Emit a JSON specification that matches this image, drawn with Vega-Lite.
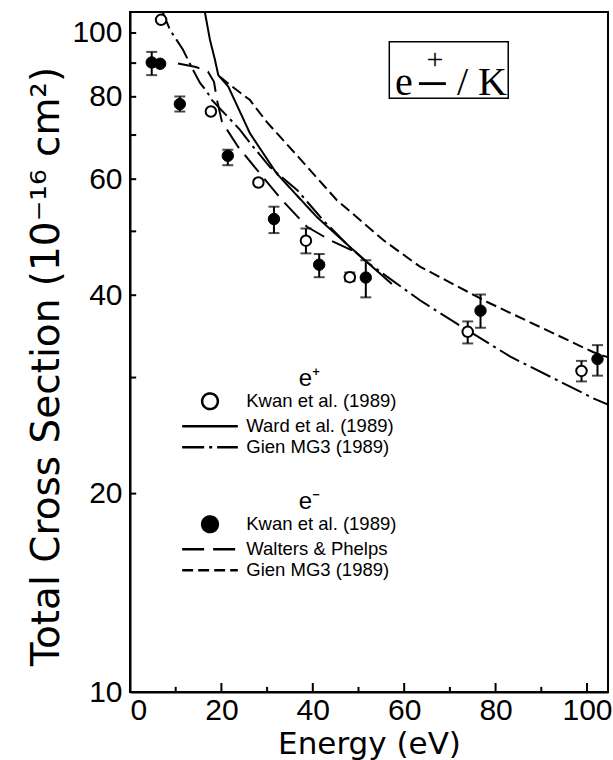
{
  "$schema": "https://vega.github.io/schema/vega-lite/v6.json",
  "width": 478,
  "height": 680,
  "autosize": {"type": "none"},
  "padding": {"left": 130, "top": 12, "right": 5, "bottom": 68},
  "background": "white",
  "config": {
    "view": {"stroke": "black", "strokeWidth": 2},
    "axis": {
      "domainColor": "black", "domainWidth": 2, "tickColor": "black", "tickWidth": 2,
      "labelColor": "black", "titleColor": "black", "grid": false,
      "labelFont": "Liberation Sans", "labelFontSize": 30,
      "titleFont": "DejaVu Sans", "titleFontSize": 31, "titleFontWeight": "normal"
    },
    "legend": {
      "orient": "none", "padding": 0, "labelFont": "Liberation Sans", "labelFontSize": 18.5,
      "labelColor": "black", "labelLimit": 300, "labelOffset": 27, "symbolSize": 124,
      "symbolStrokeWidth": 2.5, "symbolStrokeColor": "black", "rowPadding": 2,
      "titleFont": "Liberation Sans", "titleFontSize": 24, "titleFontWeight": "normal",
      "titleColor": "black", "titlePadding": 1, "titleAnchor": "middle", "titleAlign": "left"
    }
  },
  "datasets": {
    "pos_pts": [
      {"E": 6.8, "Q": 104.7, "lo": null, "hi": null},
      {"E": 17.7, "Q": 76.0, "lo": null, "hi": null},
      {"E": 28.1, "Q": 59.3, "lo": null, "hi": null},
      {"E": 38.5, "Q": 48.4, "lo": 46.3, "hi": 50.5},
      {"E": 48.1, "Q": 42.6, "lo": 42.0, "hi": 43.3},
      {"E": 73.9, "Q": 35.2, "lo": 33.8, "hi": 36.5},
      {"E": 98.8, "Q": 30.7, "lo": 29.6, "hi": 31.8}
    ],
    "neg_pts": [
      {"E": 4.75, "Q": 90.2, "lo": 86.3, "hi": 93.6},
      {"E": 6.6, "Q": 89.8, "lo": null, "hi": null},
      {"E": 10.9, "Q": 78.0, "lo": 76.0, "hi": 80.1},
      {"E": 21.4, "Q": 65.1, "lo": 63.0, "hi": 66.5},
      {"E": 31.5, "Q": 52.2, "lo": 49.7, "hi": 54.5},
      {"E": 41.4, "Q": 44.5, "lo": 42.6, "hi": 46.2},
      {"E": 51.6, "Q": 42.55, "lo": 39.7, "hi": 45.2},
      {"E": 76.7, "Q": 37.9, "lo": 35.7, "hi": 40.1},
      {"E": 102.3, "Q": 32.0, "lo": 30.2, "hi": 33.6}
    ],
    "pos_lines": [
      {"series": "Ward et al. (1989)", "E": 16.2, "Q": 110.3},
      {"series": "Ward et al. (1989)", "E": 16.41, "Q": 107.3},
      {"series": "Ward et al. (1989)", "E": 17.5, "Q": 97.6},
      {"series": "Ward et al. (1989)", "E": 18.6, "Q": 91.0},
      {"series": "Ward et al. (1989)", "E": 19.32, "Q": 86.3},
      {"series": "Ward et al. (1989)", "E": 21.51, "Q": 82.9},
      {"series": "Ward et al. (1989)", "E": 26.26, "Q": 70.4},
      {"series": "Ward et al. (1989)", "E": 32.1, "Q": 61.2},
      {"series": "Ward et al. (1989)", "E": 40.85, "Q": 52.6},
      {"series": "Ward et al. (1989)", "E": 48.86, "Q": 46.85},
      {"series": "Ward et al. (1989)", "E": 57.3, "Q": 41.6},
      {"series": "Gien MG3 (1989)", "E": 6.78, "Q": 109.1},
      {"series": "Gien MG3 (1989)", "E": 8.75, "Q": 101.1},
      {"series": "Gien MG3 (1989)", "E": 11.6, "Q": 94.3},
      {"series": "Gien MG3 (1989)", "E": 13.78, "Q": 87.9},
      {"series": "Gien MG3 (1989)", "E": 15.32, "Q": 84.0},
      {"series": "Gien MG3 (1989)", "E": 16.85, "Q": 81.4},
      {"series": "Gien MG3 (1989)", "E": 17.94, "Q": 79.1},
      {"series": "Gien MG3 (1989)", "E": 24.07, "Q": 71.3},
      {"series": "Gien MG3 (1989)", "E": 26.26, "Q": 68.1},
      {"series": "Gien MG3 (1989)", "E": 30.63, "Q": 62.6},
      {"series": "Gien MG3 (1989)", "E": 36.54, "Q": 57.8},
      {"series": "Gien MG3 (1989)", "E": 42.23, "Q": 52.0},
      {"series": "Gien MG3 (1989)", "E": 48.14, "Q": 47.3},
      {"series": "Gien MG3 (1989)", "E": 51.86, "Q": 44.9},
      {"series": "Gien MG3 (1989)", "E": 63.45, "Q": 39.3},
      {"series": "Gien MG3 (1989)", "E": 70.74, "Q": 36.5},
      {"series": "Gien MG3 (1989)", "E": 83.14, "Q": 32.3},
      {"series": "Gien MG3 (1989)", "E": 101.4, "Q": 27.9},
      {"series": "Gien MG3 (1989)", "E": 104.6, "Q": 27.3}
    ],
    "neg_lines": [
      {"series": "Walters & Phelps", "E": 10.5, "Q": 89.9},
      {"series": "Walters & Phelps", "E": 14.44, "Q": 88.8},
      {"series": "Walters & Phelps", "E": 17.07, "Q": 87.3},
      {"series": "Walters & Phelps", "E": 18.38, "Q": 84.3},
      {"series": "Walters & Phelps", "E": 19.04, "Q": 79.1},
      {"series": "Walters & Phelps", "E": 20.13, "Q": 73.3},
      {"series": "Walters & Phelps", "E": 23.63, "Q": 67.2},
      {"series": "Walters & Phelps", "E": 29.54, "Q": 59.9},
      {"series": "Walters & Phelps", "E": 33.26, "Q": 55.8},
      {"series": "Walters & Phelps", "E": 38.73, "Q": 50.8},
      {"series": "Walters & Phelps", "E": 43.76, "Q": 48.5},
      {"series": "Walters & Phelps", "E": 48.79, "Q": 46.7},
      {"series": "Gien MG3 (1989)", "E": 19.69, "Q": 85.8},
      {"series": "Gien MG3 (1989)", "E": 21.88, "Q": 83.4},
      {"series": "Gien MG3 (1989)", "E": 26.26, "Q": 79.1},
      {"series": "Gien MG3 (1989)", "E": 29.91, "Q": 73.3},
      {"series": "Gien MG3 (1989)", "E": 36.1, "Q": 65.7},
      {"series": "Gien MG3 (1989)", "E": 45.23, "Q": 55.8},
      {"series": "Gien MG3 (1989)", "E": 55.42, "Q": 48.5},
      {"series": "Gien MG3 (1989)", "E": 63.45, "Q": 44.2},
      {"series": "Gien MG3 (1989)", "E": 78.05, "Q": 39.1},
      {"series": "Gien MG3 (1989)", "E": 101.3, "Q": 32.8},
      {"series": "Gien MG3 (1989)", "E": 104.6, "Q": 32.2}
    ],
    "x_major": [{"E": 20}, {"E": 40}, {"E": 60}, {"E": 80}, {"E": 100}],
    "x_minor": [{"E": 10}, {"E": 30}, {"E": 50}, {"E": 70}, {"E": 90}],
    "y_ticks": [{"Q": 20}, {"Q": 30}, {"Q": 40}, {"Q": 50}, {"Q": 60}, {"Q": 70}, {"Q": 80}, {"Q": 90}, {"Q": 100}],
    "note": [{"label": "e±/K"}]
  },
  "resolve": {"axis": {"x": "independent", "y": "independent"}, "scale": {"strokeDash": "independent"}},
  "layer": [
    {
      "data": {"name": "note"},
      "mark": {"type": "rect", "fill": "transparent", "stroke": "black", "strokeWidth": 1.5},
      "encoding": {
        "x": {"datum": 56.74, "type": "quantitative", "scale": {"domain": [0, 104.6], "nice": false, "zero": false},
              "axis": {"orient": "bottom", "values": [0, 20, 40, 60, 80, 100], "format": "d", "ticks": false, "tickSize": 0, "labelPadding": 3, "title": "Energy (eV)", "titlePadding": 4}},
        "x2": {"datum": 82.77},
        "y": {"datum": 97.0, "type": "quantitative", "scale": {"type": "log", "domain": [10, 107.6], "nice": false},
              "axis": {"orient": "left", "values": [10, 20, 40, 60, 80, 100], "format": "d", "ticks": false, "tickSize": 0,
                       "labelPadding": 8, "title": "Total Cross Section (10⁻¹⁶ cm²)",
                       "titleFontSize": 39, "titleY": 354, "titlePadding": 5}},
        "y2": {"datum": 79.6}
      }
    },
    {
      "data": {"name": "x_major"},
      "mark": {"type": "rule", "color": "black", "strokeWidth": 2},
      "encoding": {
        "x": {"field": "E", "type": "quantitative", "scale": {"domain": [0, 104.6], "nice": false, "zero": false}, "axis": null},
        "y": {"datum": 10, "type": "quantitative", "scale": {"type": "log", "domain": [10, 107.6], "nice": false}, "axis": null},
        "y2": {"datum": 10.32}
      }
    },
    {
      "data": {"name": "x_minor"},
      "mark": {"type": "rule", "color": "black", "strokeWidth": 2},
      "encoding": {
        "x": {"field": "E", "type": "quantitative", "scale": {"domain": [0, 104.6], "nice": false, "zero": false}, "axis": null},
        "y": {"datum": 10, "type": "quantitative", "scale": {"type": "log", "domain": [10, 107.6], "nice": false}, "axis": null},
        "y2": {"datum": 10.18}
      }
    },
    {
      "data": {"name": "y_ticks"},
      "mark": {"type": "rule", "color": "black", "strokeWidth": 2},
      "encoding": {
        "x": {"datum": 0, "type": "quantitative", "scale": {"domain": [0, 104.6], "nice": false, "zero": false}, "axis": null},
        "x2": {"datum": 1.35},
        "y": {"field": "Q", "type": "quantitative", "scale": {"type": "log", "domain": [10, 107.6], "nice": false}, "axis": null}
      }
    },
    {
      "data": {"name": "note"},
      "mark": {"type": "text", "text": "e", "font": "Liberation Serif", "fontSize": 40, "align": "left", "baseline": "alphabetic", "color": "black"},
      "encoding": {
        "x": {"datum": 57.98, "type": "quantitative", "scale": {"domain": [0, 104.6], "nice": false, "zero": false}, "axis": null},
        "y": {"datum": 80.5, "type": "quantitative", "scale": {"type": "log", "domain": [10, 107.6], "nice": false}, "axis": null}
      }
    },
    {
      "data": {"name": "note"},
      "mark": {"type": "text", "text": "−", "font": "Liberation Serif", "fontSize": 58, "align": "center", "baseline": "alphabetic", "color": "black"},
      "encoding": {
        "x": {"datum": 66.19, "type": "quantitative", "scale": {"domain": [0, 104.6], "nice": false, "zero": false}, "axis": null},
        "y": {"datum": 78.4, "type": "quantitative", "scale": {"type": "log", "domain": [10, 107.6], "nice": false}, "axis": null}
      }
    },
    {
      "data": {"name": "note"},
      "mark": {"type": "text", "text": "+", "font": "Liberation Serif", "fontSize": 30, "align": "center", "baseline": "alphabetic", "color": "black"},
      "encoding": {
        "x": {"datum": 66.73, "type": "quantitative", "scale": {"domain": [0, 104.6], "nice": false, "zero": false}, "axis": null},
        "y": {"datum": 88.2, "type": "quantitative", "scale": {"type": "log", "domain": [10, 107.6], "nice": false}, "axis": null}
      }
    },
    {
      "data": {"name": "note"},
      "mark": {"type": "text", "text": "/ K", "font": "Liberation Serif", "fontSize": 40, "align": "left", "baseline": "alphabetic", "color": "black"},
      "encoding": {
        "x": {"datum": 71.55, "type": "quantitative", "scale": {"domain": [0, 104.6], "nice": false, "zero": false}, "axis": null},
        "y": {"datum": 80.5, "type": "quantitative", "scale": {"type": "log", "domain": [10, 107.6], "nice": false}, "axis": null}
      }
    },
    {
      "layer": [
        {
          "data": {"name": "pos_lines"},
          "mark": {"type": "line", "color": "black", "strokeWidth": 2, "clip": true},
          "encoding": {
            "x": {"field": "E", "type": "quantitative", "scale": {"domain": [0, 104.6], "nice": false, "zero": false}, "axis": null},
            "y": {"field": "Q", "type": "quantitative", "scale": {"type": "log", "domain": [10, 107.6], "nice": false}, "axis": null},
            "strokeDash": {"field": "series", "type": "nominal",
              "scale": {"domain": ["Kwan et al. (1989)", "Ward et al. (1989)", "Gien MG3 (1989)"], "range": [[1, 0], [1, 0], [22, 5, 3, 5]]},
              "legend": {"title": "\u00a0\u00a0\u00a0\u00a0e⁺", "legendX": 70.75, "legendY": 355,
                "encode": {"symbols": {"update": {
                  "shape": {"signal": "datum.value === 'Kwan et al. (1989)' ? 'M-1.41,0A1.41,1.41,0,1,0,1.41,0A1.41,1.41,0,1,0,-1.41,0Z' : 'M-5,0H5'"},
                  "fill": {"value": "white"}, "stroke": {"value": "black"}, "strokeWidth": {"value": 2.5}, "opacity": {"value": 1}}}}}}
          }
        },
        {
          "data": {"name": "pos_pts"},
          "mark": {"type": "rule", "color": "black", "strokeWidth": 2},
          "encoding": {
            "x": {"field": "E", "type": "quantitative", "scale": {"domain": [0, 104.6], "nice": false, "zero": false}, "axis": null},
            "y": {"field": "lo", "type": "quantitative", "scale": {"type": "log", "domain": [10, 107.6], "nice": false}, "axis": null},
            "y2": {"field": "hi"}
          }
        },
        {
          "data": {"name": "pos_pts"},
          "mark": {"type": "tick", "orient": "horizontal", "color": "black", "size": 11, "thickness": 2},
          "encoding": {
            "x": {"field": "E", "type": "quantitative", "scale": {"domain": [0, 104.6], "nice": false, "zero": false}, "axis": null},
            "y": {"field": "lo", "type": "quantitative", "scale": {"type": "log", "domain": [10, 107.6], "nice": false}, "axis": null}
          }
        },
        {
          "data": {"name": "pos_pts"},
          "mark": {"type": "tick", "orient": "horizontal", "color": "black", "size": 11, "thickness": 2},
          "encoding": {
            "x": {"field": "E", "type": "quantitative", "scale": {"domain": [0, 104.6], "nice": false, "zero": false}, "axis": null},
            "y": {"field": "hi", "type": "quantitative", "scale": {"type": "log", "domain": [10, 107.6], "nice": false}, "axis": null}
          }
        },
        {
          "data": {"name": "pos_pts"},
          "mark": {"type": "point", "shape": "circle", "filled": true, "fill": "white", "stroke": "black", "strokeWidth": 2, "size": 110, "opacity": 1},
          "encoding": {
            "x": {"field": "E", "type": "quantitative", "scale": {"domain": [0, 104.6], "nice": false, "zero": false}, "axis": null},
            "y": {"field": "Q", "type": "quantitative", "scale": {"type": "log", "domain": [10, 107.6], "nice": false}, "axis": null}
          }
        }
      ]
    },
    {
      "layer": [
        {
          "data": {"name": "neg_lines"},
          "mark": {"type": "line", "color": "black", "strokeWidth": 2, "clip": true},
          "encoding": {
            "x": {"field": "E", "type": "quantitative", "scale": {"domain": [0, 104.6], "nice": false, "zero": false}, "axis": null},
            "y": {"field": "Q", "type": "quantitative", "scale": {"type": "log", "domain": [10, 107.6], "nice": false}, "axis": null},
            "strokeDash": {"field": "series", "type": "nominal",
              "scale": {"domain": ["Kwan et al. (1989)", "Walters & Phelps", "Gien MG3 (1989)"], "range": [[1, 0], [22, 9], [11, 5]]},
              "legend": {"title": "\u00a0\u00a0\u00a0\u00a0e⁻", "legendX": 70.75, "legendY": 478,
                "encode": {"symbols": {"update": {
                  "shape": {"signal": "datum.value === 'Kwan et al. (1989)' ? 'M-1.41,0A1.41,1.41,0,1,0,1.41,0A1.41,1.41,0,1,0,-1.41,0Z' : 'M-5,0H5'"},
                  "fill": {"value": "black"}, "stroke": {"value": "black"}, "strokeWidth": {"value": 2.5}, "opacity": {"value": 1}}}}}}
          }
        },
        {
          "data": {"name": "neg_pts"},
          "mark": {"type": "rule", "color": "black", "strokeWidth": 2},
          "encoding": {
            "x": {"field": "E", "type": "quantitative", "scale": {"domain": [0, 104.6], "nice": false, "zero": false}, "axis": null},
            "y": {"field": "lo", "type": "quantitative", "scale": {"type": "log", "domain": [10, 107.6], "nice": false}, "axis": null},
            "y2": {"field": "hi"}
          }
        },
        {
          "data": {"name": "neg_pts"},
          "mark": {"type": "tick", "orient": "horizontal", "color": "black", "size": 11, "thickness": 2},
          "encoding": {
            "x": {"field": "E", "type": "quantitative", "scale": {"domain": [0, 104.6], "nice": false, "zero": false}, "axis": null},
            "y": {"field": "lo", "type": "quantitative", "scale": {"type": "log", "domain": [10, 107.6], "nice": false}, "axis": null}
          }
        },
        {
          "data": {"name": "neg_pts"},
          "mark": {"type": "tick", "orient": "horizontal", "color": "black", "size": 11, "thickness": 2},
          "encoding": {
            "x": {"field": "E", "type": "quantitative", "scale": {"domain": [0, 104.6], "nice": false, "zero": false}, "axis": null},
            "y": {"field": "hi", "type": "quantitative", "scale": {"type": "log", "domain": [10, 107.6], "nice": false}, "axis": null}
          }
        },
        {
          "data": {"name": "neg_pts"},
          "mark": {"type": "point", "shape": "circle", "filled": true, "fill": "black", "stroke": "black", "strokeWidth": 1, "size": 130, "opacity": 1},
          "encoding": {
            "x": {"field": "E", "type": "quantitative", "scale": {"domain": [0, 104.6], "nice": false, "zero": false}, "axis": null},
            "y": {"field": "Q", "type": "quantitative", "scale": {"type": "log", "domain": [10, 107.6], "nice": false}, "axis": null}
          }
        }
      ]
    }
  ]
}
